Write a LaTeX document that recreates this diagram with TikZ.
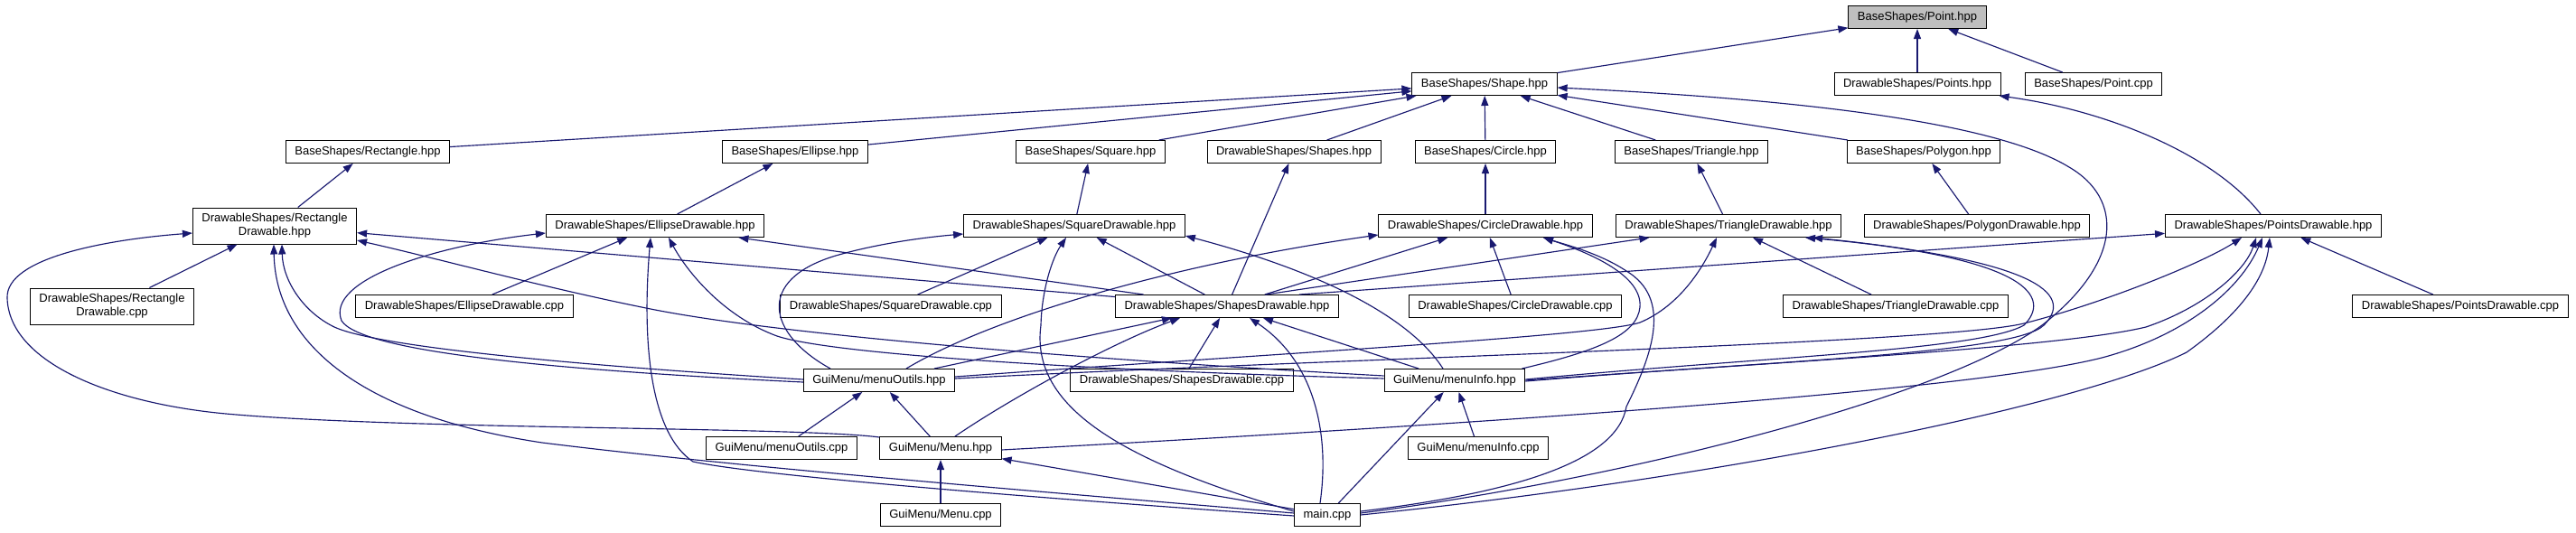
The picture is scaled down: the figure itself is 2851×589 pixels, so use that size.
\documentclass[tikz,border=0pt]{standalone}
\usepackage{fontspec}
\setmainfont{Liberation Sans}
\usetikzlibrary{arrows.meta}
\definecolor{edgeblue}{HTML}{191970}
\definecolor{fillgray}{HTML}{BFBFBF}

\begin{document}
\begin{tikzpicture}[x=1pt,y=-1pt,font=\fontsize{13}{15}\selectfont,>={Triangle[length=11pt,width=8pt]}]
  \tikzset{filebox/.style={draw=black,line width=1pt,fill=white,minimum height=25pt,inner xsep=10pt,inner ysep=3pt,align=center}}
  \tikzset{incl/.style={edgeblue,line width=1.15pt,->}}
  \useasboundingbox (0,0) rectangle (2851,589);
  \node[filebox,fill=fillgray] (pointhpp) at (2122,19) {BaseShapes/Point.hpp};
  \node[filebox] (shape) at (1643,93) {BaseShapes/Shape.hpp};
  \node[filebox] (points) at (2122,93) {DrawableShapes/Points.hpp};
  \node[filebox] (pointcpp) at (2317,93) {BaseShapes/Point.cpp};
  \node[filebox] (rect) at (407,168) {BaseShapes/Rectangle.hpp};
  \node[filebox] (ellipse) at (880,168) {BaseShapes/Ellipse.hpp};
  \node[filebox] (square) at (1207,168) {BaseShapes/Square.hpp};
  \node[filebox] (shapes) at (1432,168) {DrawableShapes/Shapes.hpp};
  \node[filebox] (circle) at (1644,168) {BaseShapes/Circle.hpp};
  \node[filebox] (triangle) at (1872,168) {BaseShapes/Triangle.hpp};
  \node[filebox] (polygon) at (2129,168) {BaseShapes/Polygon.hpp};
  \node[filebox,minimum height=40pt] (rectd) at (304,250) {DrawableShapes/Rectangle\\Drawable.hpp};
  \node[filebox] (ellipsed) at (725,250) {DrawableShapes/EllipseDrawable.hpp};
  \node[filebox] (squared) at (1189,250) {DrawableShapes/SquareDrawable.hpp};
  \node[filebox] (circled) at (1644,250) {DrawableShapes/CircleDrawable.hpp};
  \node[filebox] (triangled) at (1913,250) {DrawableShapes/TriangleDrawable.hpp};
  \node[filebox] (polygond) at (2188,250) {DrawableShapes/PolygonDrawable.hpp};
  \node[filebox] (pointsd) at (2516,250) {DrawableShapes/PointsDrawable.hpp};
  \node[filebox,minimum height=40pt] (rectdcpp) at (124,339) {DrawableShapes/Rectangle\\Drawable.cpp};
  \node[filebox] (ellipsedcpp) at (514,339) {DrawableShapes/EllipseDrawable.cpp};
  \node[filebox] (squaredcpp) at (986,339) {DrawableShapes/SquareDrawable.cpp};
  \node[filebox] (shapesd) at (1358,339) {DrawableShapes/ShapesDrawable.hpp};
  \node[filebox] (circledcpp) at (1677,339) {DrawableShapes/CircleDrawable.cpp};
  \node[filebox] (triangledcpp) at (2098,339) {DrawableShapes/TriangleDrawable.cpp};
  \node[filebox] (pointsdcpp) at (2723,339) {DrawableShapes/PointsDrawable.cpp};
  \node[filebox] (outilsh) at (973,421) {GuiMenu/menuOutils.hpp};
  \node[filebox] (shapesdcpp) at (1308,421) {DrawableShapes/ShapesDrawable.cpp};
  \node[filebox] (infoh) at (1610,421) {GuiMenu/menuInfo.hpp};
  \node[filebox] (outilscpp) at (865,496) {GuiMenu/menuOutils.cpp};
  \node[filebox] (menuh) at (1041,496) {GuiMenu/Menu.hpp};
  \node[filebox] (infocpp) at (1636,496) {GuiMenu/menuInfo.cpp};
  \node[filebox] (menucpp) at (1041,570) {GuiMenu/Menu.cpp};
  \node[filebox] (maincpp) at (1469,570) {main.cpp};
  \draw[incl] (shape) -- (pointhpp);
  \draw[incl] (points) -- (pointhpp);
  \draw[incl] (pointcpp) -- (pointhpp);
  \draw[incl] (rect) -- (shape);
  \draw[incl] (ellipse) -- (shape);
  \draw[incl] (square) -- (shape);
  \draw[incl] (shapes) -- (shape);
  \draw[incl] (circle) -- (shape);
  \draw[incl] (triangle) -- (shape);
  \draw[incl] (polygon) -- (shape);
  \draw[incl] (rectd) -- (rect);
  \draw[incl] (ellipsed) -- (ellipse);
  \draw[incl] (squared) -- (square);
  \draw[incl] (circled) -- (circle);
  \draw[incl] (triangled) -- (triangle);
  \draw[incl] (polygond) -- (polygon);
  \draw[incl] ([xshift=-14pt]pointsd.north) .. controls (2450,170) and (2330,122) .. ([xshift=-2pt]points.south east);
  \draw[incl] (rectdcpp) -- (rectd);
  \draw[incl] (ellipsedcpp) -- (ellipsed);
  \draw[incl] (squaredcpp) -- (squared);
  \draw[incl] (circledcpp) -- (circled);
  \draw[incl] (triangledcpp) -- (triangled);
  \draw[incl] (pointsdcpp) -- (pointsd);
  \draw[incl] (shapesd) -- (shapes);
  \draw[incl] (shapesd) -- (rectd);
  \draw[incl] (shapesd) -- (ellipsed);
  \draw[incl] (shapesd) -- (squared);
  \draw[incl] (shapesd) -- (circled);
  \draw[incl] ([xshift=43pt]shapesd.north) -- (triangled);
  \draw[incl] ([xshift=80pt]shapesd.north) -- (pointsd);
  \draw[incl] (outilsh) -- (shapesd);
  \draw[incl] ([yshift=1pt]outilsh.west) .. controls (650,405) and (420,385) .. (370,362) .. controls (335,345) and (313,310) .. ([xshift=8pt]rectd.south);
  \draw[incl] ([yshift=-2pt]outilsh.west) .. controls (620,410) and (400,390) .. (378,355) .. controls (360,310) and (480,272) .. ([yshift=-8pt]ellipsed.west);
  \draw[incl] ([xshift=-54pt]outilsh.north) .. controls (850,370) and (835,310) .. (925,283) .. controls (970,270) and (1020,263) .. ([yshift=-9pt]squared.west);
  \draw[incl] ([xshift=30pt]outilsh.north) .. controls (1100,350) and (1300,292) .. ([yshift=-10pt]circled.west);
  \draw[incl] ([yshift=4pt]outilsh.east) .. controls (1400,392) and (1770,372) .. (1815,357) .. controls (1860,338) and (1885,295) .. ([xshift=-13pt]triangled.south);
  \draw[incl] ([yshift=2pt]outilsh.east) .. controls (1500,396) and (2150,380) .. (2240,358) .. controls (2330,335) and (2440,290) .. ([xshift=-35pt]pointsd.south);
  \draw[incl] (shapesdcpp) -- (shapesd);
  \draw[incl] (infoh) -- (shapesd);
  \draw[incl] ([yshift=5pt]infoh.west) .. controls (1150,395) and (850,368) .. (720,342) .. controls (600,318) and (480,285) .. ([yshift=-16pt]rectd.east);
  \draw[incl] ([yshift=2pt]infoh.west) .. controls (1200,410) and (920,392) .. (860,372) .. controls (800,350) and (760,300) .. ([xshift=15pt]ellipsed.south);
  \draw[incl] ([xshift=-13pt]infoh.north) .. controls (1560,350) and (1460,300) .. ([yshift=-11pt]squared.east);
  \draw[incl] ([xshift=-4pt]infoh.north east) .. controls (1770,388) and (1812,370) .. (1815,340) .. controls (1818,305) and (1760,280) .. ([xshift=64pt]circled.south);
  \draw[incl] ([yshift=1pt]infoh.east) .. controls (1950,395) and (2190,388) .. (2240,360) .. controls (2270,330) and (2250,285) .. ([xshift=85pt]triangled.south);
  \draw[incl] ([yshift=-1pt]infoh.east) .. controls (1950,400) and (2230,392) .. (2262,360) .. controls (2292,330) and (2272,290) .. ([xshift=93pt]triangled.south);
  \draw[incl] (infoh.east) .. controls (1950,402) and (2280,385) .. (2375,362) .. controls (2440,340) and (2485,300) .. ([xshift=-19pt]pointsd.south);
  \draw[incl] (outilscpp) -- (outilsh);
  \draw[incl] (menuh) -- (outilsh);
  \draw[incl] ([xshift=16pt]menuh.north) .. controls (1120,440) and (1230,380) .. ([xshift=-52pt]shapesd.south);
  \draw[incl] ([yshift=12pt]menuh.west) .. controls (880,472) and (450,476) .. (250,458) .. controls (120,446) and (10,400) .. (8,330) .. controls (6,285) and (120,265) .. ([yshift=-8pt]rectd.west);
  \draw[incl] ([yshift=-2pt]menuh.east) .. controls (1700,466) and (2200,430) .. (2330,395) .. controls (2420,370) and (2480,320) .. ([xshift=-12pt]pointsd.south);
  \draw[incl] (infocpp) -- (infoh);
  \draw[incl] (menucpp) -- (menuh);
  \draw[incl] (maincpp) -- (menuh);
  \draw[incl] (maincpp) -- (infoh);
  \draw[incl] ([xshift=-8pt]maincpp.north) .. controls (1472,480) and (1455,400) .. ([xshift=25pt]shapesd.south);
  \draw[incl] ([yshift=2pt]maincpp.west) .. controls (1100,540) and (800,515) .. (600,490) .. controls (400,460) and (305,380) .. ([xshift=-1pt]rectd.south);
  \draw[incl] ([yshift=-1pt]maincpp.west) .. controls (1100,548) and (830,525) .. (767,511) .. controls (720,480) and (710,380) .. ([xshift=-5pt]ellipsed.south);
  \draw[incl] ([yshift=4pt]maincpp.west) .. controls (1240,510) and (1140,450) .. (1152,360) .. controls (1153,320) and (1165,285) .. ([xshift=-9pt]squared.south);
  \draw[incl] ([yshift=4pt]maincpp.east) .. controls (1680,545) and (1790,510) .. (1800,450) .. controls (1830,390) and (1850,330) .. (1800,300) .. controls (1770,280) and (1730,270) .. ([xshift=64pt]circled.south);
  \draw[incl] ([yshift=2pt]maincpp.east) .. controls (1800,530) and (2150,440) .. (2260,360) .. controls (2350,290) and (2350,220) .. (2290,185) .. controls (2200,130) and (1950,108) .. ([yshift=-4pt]shape.east);
  \draw[incl] (maincpp.east) .. controls (1900,530) and (2300,450) .. (2420,390) .. controls (2490,340) and (2508,300) .. ([xshift=-4pt]pointsd.south);
\end{tikzpicture}
\end{document}
